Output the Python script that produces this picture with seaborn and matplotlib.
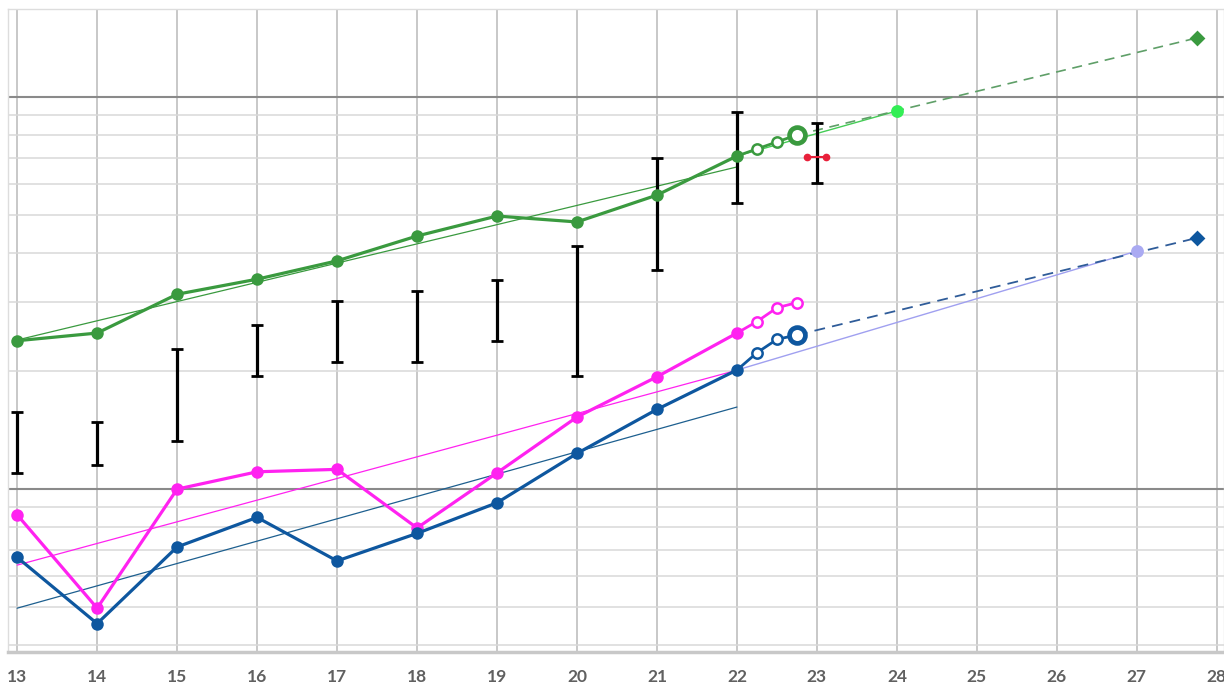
import matplotlib
matplotlib.use('Agg')
import matplotlib.pyplot as plt
import matplotlib.ticker as mticker
import seaborn as sns
import numpy as np

# Observed days
days = [13, 14, 15, 16, 17, 18, 19, 20, 21, 22]
green_vals = [23.9, 25.0, 31.4, 34.3, 38.2, 44.2, 49.7, 48.0, 56.2, 70.7]
magenta_vals = [8.6, 4.97, 10.0, 11.07, 11.23, 7.96, 11.0, 15.27, 19.34, 25.0]
blue_vals = [6.70, 4.54, 7.12, 8.47, 6.56, 7.71, 9.23, 12.33, 15.97, 20.12]

# Short projections (open circles)
proj_x = [22.25, 22.5, 22.75]
green_proj = [73.7, 76.8, 80.0]
magenta_proj = [26.75, 29.0, 29.9]
blue_proj = [22.27, 24.09, 24.72]

# Trend lines
trend_x = [13, 22]
green_trend = [24.0, 66.3]
magenta_trend = [6.4, 20.1]
blue_trend = [4.97, 16.19]

# Target lines
green_target_x = [22, 24]
green_target = [70.7, 92.1]
blue_target_x = [22, 27]
blue_target = [20.12, 40.46]

# Long dashed projections
dash_x = [22.75, 27.75]
green_dash = [80.0, 141.4]
blue_dash = [24.72, 43.7]

# Range bars
err_x = [13, 14, 15, 16, 17, 18, 19, 20, 21, 22, 23]
err_low = [10.98, 11.51, 13.26, 19.42, 21.09, 21.09, 23.85, 19.42, 36.2, 53.6, 60.3]
err_high = [15.72, 14.82, 22.76, 26.2, 30.17, 32.0, 34.14, 41.69, 69.9, 91.6, 85.9]

red_x = [22.87, 23.11]
red_y = [70.3, 70.3]

GREEN = '#3a9a3f'
MAGENTA = '#ff22f0'
BLUE = '#0e579f'

sns.set_theme(style='whitegrid')
plt.rcParams['font.family'] = ['Lato', 'DejaVu Sans']

fig = plt.figure(figsize=(12.24, 6.85), dpi=100)
ax = fig.add_axes([0.0065, 0.048, 0.9935, 0.939])
ax.set_yscale('log')

# thin trend lines
sns.lineplot(x=trend_x, y=green_trend, color=GREEN, linewidth=0.9, ax=ax, zorder=3)
sns.lineplot(x=trend_x, y=magenta_trend, color=MAGENTA, linewidth=0.9, ax=ax, zorder=3)
sns.lineplot(x=trend_x, y=blue_trend, color='#1d5f8f', linewidth=0.9, ax=ax, zorder=3)
sns.lineplot(x=green_target_x, y=green_target, color='#44cc55', linewidth=1.0, ax=ax, zorder=3)
sns.lineplot(x=blue_target_x, y=blue_target, color='#a0a0f0', linewidth=1.0, ax=ax, zorder=3)

# dashed long projections
sns.lineplot(x=dash_x, y=green_dash, color='#5f9f68', linewidth=1.2,
             linestyle=(0, (6, 4)), ax=ax, zorder=3)
sns.lineplot(x=dash_x, y=blue_dash, color='#2f5c99', linewidth=1.3,
             linestyle=(0, (6, 4)), ax=ax, zorder=3)

# range bars
mid = [(a + b) / 2 for a, b in zip(err_low, err_high)]
ax.errorbar(err_x, mid,
            yerr=[[m - a for m, a in zip(mid, err_low)],
                  [b - m for m, b in zip(mid, err_high)]],
            fmt='none', ecolor='black', elinewidth=2.3, capsize=4, capthick=2, zorder=4)
ax.plot(red_x, red_y, color='#e8203a', lw=1.5, marker='o', ms=4.5, zorder=4)

# main series
for vals, proj, col in [(green_vals, green_proj, GREEN),
                        (magenta_vals, magenta_proj, MAGENTA),
                        (blue_vals, blue_proj, BLUE)]:
    sns.lineplot(x=days, y=vals, color=col, linewidth=2.3, marker='o',
                 markersize=9, markeredgewidth=0, ax=ax, zorder=5)
    sns.lineplot(x=[days[-1]] + proj_x, y=[vals[-1]] + proj, color=col,
                 linewidth=2.0, ax=ax, zorder=5)
    sns.scatterplot(x=proj_x[:2], y=proj[:2], color='white', edgecolor=col,
                    s=55, linewidth=1.8, ax=ax, zorder=6)

# big open end circles (green & blue only)
for yv, col in [(green_proj[-1], GREEN), (blue_proj[-1], BLUE)]:
    sns.scatterplot(x=[proj_x[-1]], y=[yv], color='white', edgecolor=col,
                    s=130, linewidth=3.4, ax=ax, zorder=6)
sns.scatterplot(x=[proj_x[-1]], y=[magenta_proj[-1]], color='white', edgecolor=MAGENTA,
                s=55, linewidth=1.8, ax=ax, zorder=6)

# target markers
sns.scatterplot(x=[green_target_x[-1]], y=[green_target[-1]], color='#33ee55',
                s=85, linewidth=0, ax=ax, zorder=6)
sns.scatterplot(x=[blue_target_x[-1]], y=[blue_target[-1]], color='#aaaaf2',
                s=85, linewidth=0, ax=ax, zorder=6)
sns.scatterplot(x=[dash_x[-1]], y=[green_dash[-1]], color='#3a9a3f', marker='D',
                s=65, linewidth=0, ax=ax, zorder=6)
sns.scatterplot(x=[dash_x[-1]], y=[blue_dash[-1]], color='#0e579f', marker='D',
                s=65, linewidth=0, ax=ax, zorder=6)

ax.set_xlim(12.885, 28.09)
ax.set_ylim(3.84, 167.7)
ax.set_xticks(range(13, 29))
ax.yaxis.set_major_locator(mticker.FixedLocator([10, 100]))
ax.yaxis.set_minor_locator(mticker.LogLocator(base=10, subs=np.arange(2, 10)))
ax.yaxis.set_major_formatter(mticker.NullFormatter())
ax.yaxis.set_minor_formatter(mticker.NullFormatter())

ax.grid(axis='x', which='major', color='#c4c4c4', linewidth=1.3)
ax.grid(axis='y', which='major', color='#8a8a8a', linewidth=1.5)
ax.grid(axis='y', which='minor', color='#d8d8d8', linewidth=1.1)
ax.set_axisbelow(True)

ax.tick_params(axis='x', length=0, pad=12, labelsize=12.5, labelcolor='#606060')
ax.tick_params(axis='y', length=0, which='both')
for lab in ax.get_xticklabels():
    lab.set_fontweight('bold')
for side in ['top', 'left', 'right']:
    ax.spines[side].set_color('#dddddd')
    ax.spines[side].set_linewidth(1.0)
ax.spines['bottom'].set_color('#c8c8c8')
ax.spines['bottom'].set_linewidth(2.5)
ax.set_xlabel('')
ax.set_ylabel('')
if ax.get_legend():
    ax.get_legend().remove()

fig.savefig('out.png', dpi=100)
